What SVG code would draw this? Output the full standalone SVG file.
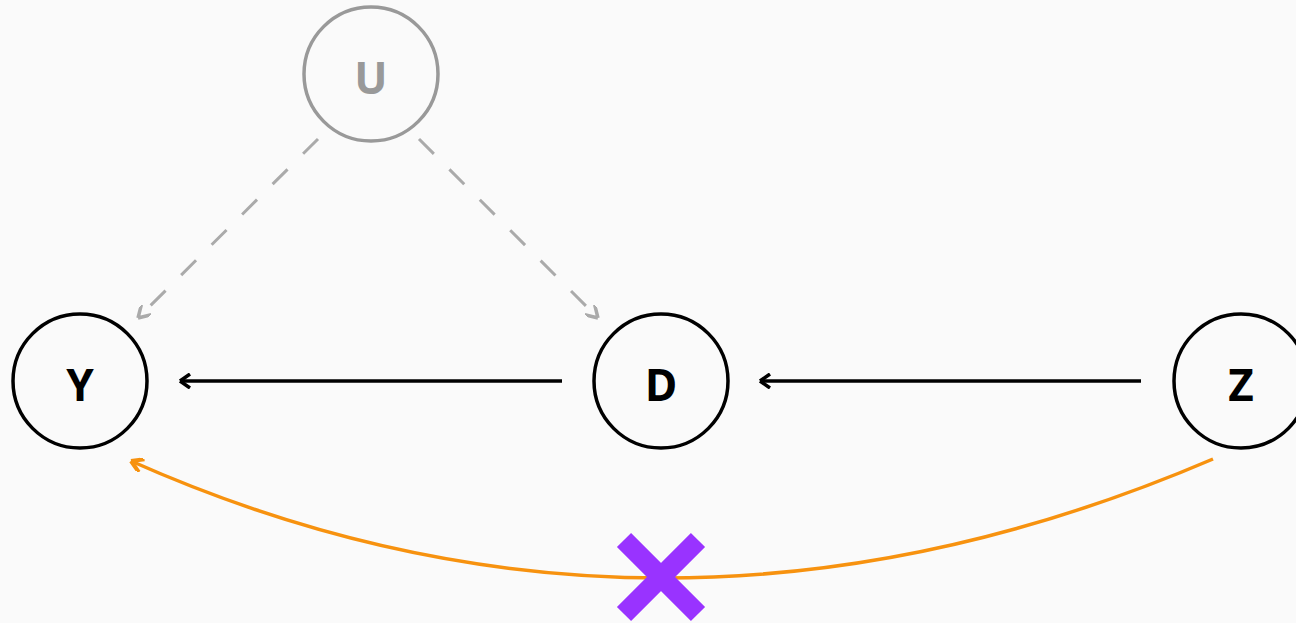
<svg xmlns="http://www.w3.org/2000/svg" width="1296" height="623" viewBox="0 0 1296 623">
<style>
.node circle{fill:none;stroke:#000;stroke-width:3.5}
.node text{font-family:"Noto Sans","Open Sans",sans-serif;font-weight:bold;font-size:44px;text-anchor:middle;fill:#000}
#U circle{stroke:#999}
#U text{fill:#999}
.solid{stroke:#000;stroke-width:3.5;fill:none}
.dash{stroke:#aaa;stroke-width:3;fill:none;stroke-dasharray:21 22}
.curve{stroke:#f7920f;stroke-width:3.5;fill:none}
</style>
<defs>
<marker id="ab" viewBox="0 0 14 16" refX="12" refY="8" markerWidth="14" markerHeight="16" markerUnits="userSpaceOnUse" orient="auto"><path d="M12,8 L2,1 M12,8 L2,15" stroke="#000" stroke-width="3.5" fill="none"/></marker>
<marker id="ag" viewBox="0 0 12 12" refX="11" refY="6" markerWidth="14" markerHeight="14" markerUnits="userSpaceOnUse" orient="auto"><path d="M11,6 L1,0 M11,6 L1,12" stroke="#aaa" stroke-width="3" fill="none"/></marker>
<marker id="ao" viewBox="0 0 12 12" refX="11" refY="6" markerWidth="14" markerHeight="14" markerUnits="userSpaceOnUse" orient="auto"><path d="M11,6 L1,0 M11,6 L1,12" stroke="#f7920f" stroke-width="3.5" fill="none"/></marker>
</defs>
<rect width="1296" height="623" fill="#fafafa"/>
<g id="connectors">
<line class="solid" x1="562" y1="381" x2="180" y2="381" marker-end="url(#ab)"/>
<line class="solid" x1="1141" y1="381" x2="760" y2="381" marker-end="url(#ab)"/>
<line class="dash" x1="318" y1="139" x2="138" y2="318" marker-end="url(#ag)"/>
<line class="dash" x1="419" y1="139" x2="598" y2="318" marker-end="url(#ag)"/>
<path class="curve" d="M1213,459 Q660,696 131,461" marker-end="url(#ao)"/>
</g>
<g id="block">
<path d="M624,540 L698,614 M698,540 L624,614" stroke="#9933ff" stroke-width="20" fill="none"/>
</g>
<g id="U" class="node"><circle cx="371" cy="74" r="67"/><text x="371" y="94">U</text></g>
<g id="Y" class="node"><circle cx="80" cy="381" r="67"/><text x="80" y="401">Y</text></g>
<g id="D" class="node"><circle cx="661" cy="381" r="67"/><text x="661" y="401">D</text></g>
<g id="Z" class="node"><circle cx="1241" cy="381" r="67"/><text x="1241" y="401">Z</text></g>
</svg>
